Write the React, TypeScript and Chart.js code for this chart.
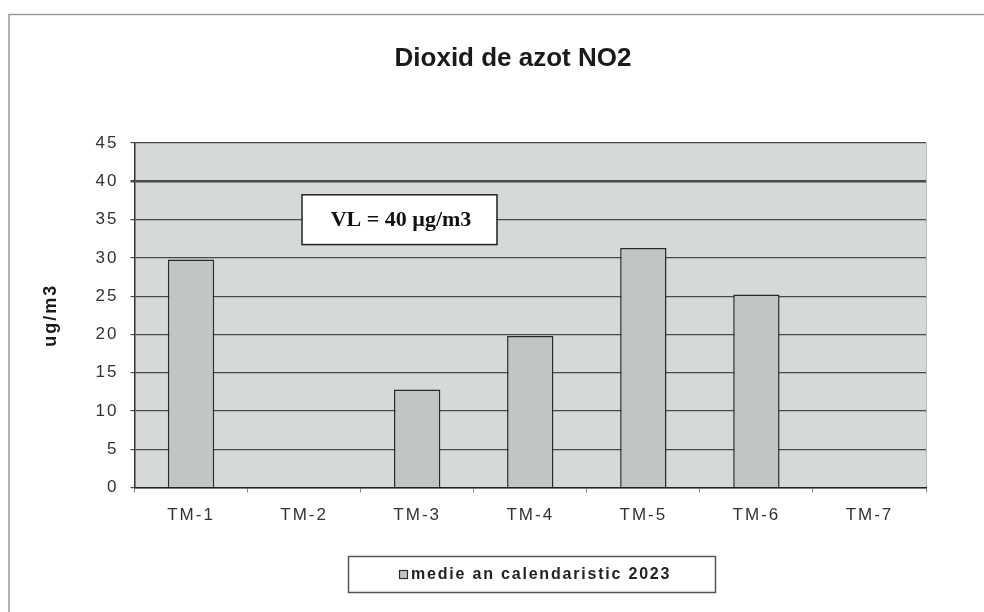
import React, { useEffect, useRef } from "react";
import { Chart, registerables } from "chart.js";

Chart.register(...registerables);

const categories = ["TM-1", "TM-2", "TM-3", "TM-4", "TM-5", "TM-6", "TM-7"];
const values: (number | null)[] = [29.8, null, 12.8, 19.8, 31.3, 25.2, null];
const seriesLabel = "medie an calendaristic 2023";
const chartTitle = "Dioxid de azot NO2";
const yTitle = "ug/m3";
const limitValue = 40;
const limitLabel = "VL = 40 µg/m3";

const FONT = "'Liberation Sans', Arial, sans-serif";
const BAR_FILL = "#c1c5c3";
const BAR_EDGE = "#2a2a2a";

const framePlugin = {
  id: "framePlugin",
  beforeUpdate(chart: any) {
    (chart.ctx as any).letterSpacing = "2px";
  },
  beforeDraw(chart: any) {
    const { ctx, chartArea } = chart;
    (ctx as any).letterSpacing = "2px";
    ctx.save();
    ctx.fillStyle = "#ffffff";
    ctx.fillRect(0, 0, chart.width, chart.height);
    // outer frame (top and left edges)
    ctx.strokeStyle = "#9a9a9a";
    ctx.lineWidth = 1.5;
    ctx.beginPath();
    ctx.moveTo(9, chart.height);
    ctx.lineTo(9, 14.5);
    ctx.lineTo(chart.width, 14.5);
    ctx.stroke();
    // plot area background
    ctx.fillStyle = "#d5d9d8";
    ctx.fillRect(chartArea.left, chartArea.top, chartArea.right - chartArea.left, chartArea.bottom - chartArea.top);
    ctx.strokeStyle = "#b8bcbb";
    ctx.lineWidth = 1;
    ctx.beginPath();
    ctx.moveTo(chartArea.right + 0.5, chartArea.top);
    ctx.lineTo(chartArea.right + 0.5, chartArea.bottom);
    ctx.stroke();
    // title
    (ctx as any).letterSpacing = "0px";
    ctx.fillStyle = "#1a1a1a";
    ctx.font = `bold 26px ${FONT}`;
    ctx.textAlign = "center";
    ctx.textBaseline = "middle";
    ctx.fillText(chartTitle, 513, 59);
    ctx.restore();
  },
  afterDraw(chart: any) {
    const { ctx, chartArea, scales } = chart;
    ctx.save();
    (ctx as any).letterSpacing = "0px";
    // VL box
    const bx = chartArea.left + 167;
    const by = scales.y.getPixelForValue(38.3);
    const bw = 195;
    const bh = scales.y.getPixelForValue(31.8) - by;
    ctx.fillStyle = "#ffffff";
    ctx.fillRect(bx, by, bw, bh);
    ctx.strokeStyle = "#222";
    ctx.lineWidth = 1.5;
    ctx.strokeRect(bx + 0.5, by + 0.5, bw, bh);
    ctx.fillStyle = "#111";
    ctx.font = "bold 22px 'Liberation Serif', 'Times New Roman', serif";
    ctx.textAlign = "center";
    ctx.textBaseline = "middle";
    ctx.fillText(limitLabel, bx + bw / 2 + 2, by + bh / 2 + 1);
    // legend box
    const lx = 348;
    const ly = 556;
    const lw = 367;
    const lh = 36;
    ctx.fillStyle = "#ffffff";
    ctx.fillRect(lx, ly, lw, lh);
    ctx.strokeStyle = "#555";
    ctx.lineWidth = 1.5;
    ctx.strokeRect(lx + 0.5, ly + 0.5, lw, lh);
    // legend item
    ctx.fillStyle = BAR_FILL;
    ctx.fillRect(399, 570, 8, 8);
    ctx.strokeStyle = BAR_EDGE;
    ctx.lineWidth = 1.2;
    ctx.strokeRect(399.5, 570.5, 8, 8);
    (ctx as any).letterSpacing = "1.8px";
    ctx.fillStyle = "#222";
    ctx.font = `bold 16px ${FONT}`;
    ctx.textAlign = "left";
    ctx.textBaseline = "middle";
    ctx.fillText(seriesLabel, 411, 575);
    ctx.restore();
  },
};

export default function App() {
  const ref = useRef<HTMLCanvasElement | null>(null);
  useEffect(() => {
    if (!ref.current) return;
    const chart = new Chart(ref.current, {
      type: "bar",
      data: {
        labels: categories,
        datasets: [
          {
            label: seriesLabel,
            data: values,
            backgroundColor: BAR_FILL,
            borderColor: BAR_EDGE,
            borderWidth: 1.5,
            categoryPercentage: 1,
            barPercentage: 0.41,
          },
        ],
      },
      options: {
        animation: false,
        responsive: false,
        maintainAspectRatio: false,
        layout: { padding: { left: 40, right: 58, top: 143, bottom: 73 } },
        plugins: {
          tooltip: { enabled: false },
          title: { display: false },
          legend: { display: false },
        },
        scales: {
          x: {
            grid: {
              offset: true,
              drawOnChartArea: false,
              drawTicks: true,
              tickLength: 5,
              color: "#888",
            },
            border: { display: true, color: "#222", width: 1.5 },
            ticks: {
              color: "#333",
              font: { family: FONT, size: 17 },
              padding: 13,
            },
          },
          y: {
            min: 0,
            max: 45,
            ticks: {
              stepSize: 5,
              color: "#333",
              font: { family: FONT, size: 17 },
              padding: 12,
            },
            grid: {
              color: "#4a4a4a",
              lineWidth: (c: any) => (c.tick && c.tick.value === limitValue ? 2.4 : 1.2),
              tickLength: 4,
              drawTicks: true,
            },
            border: { display: true, color: "#333", width: 1.5 },
            title: {
              display: true,
              text: yTitle,
              color: "#1a1a1a",
              font: { family: FONT, size: 18, weight: "bold" },
              padding: { top: 0, bottom: 22 },
            },
          },
        },
      },
      plugins: [framePlugin],
    });
    return () => chart.destroy();
  }, []);
  return (
    <div style={{ position: "fixed", left: 0, top: 0, width: 984, height: 612 }}>
      <canvas ref={ref} width={984} height={612} style={{ width: 984, height: 612, display: "block" }} />
    </div>
  );
}
